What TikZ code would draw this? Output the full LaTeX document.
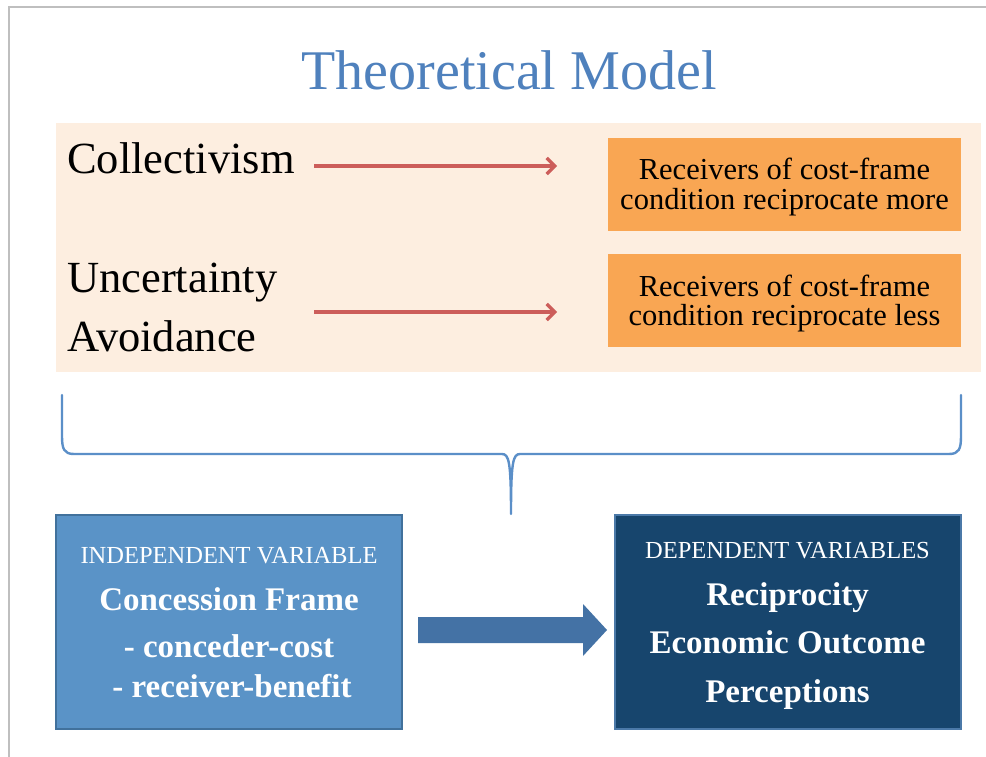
\documentclass[tikz,border=0pt]{standalone}
\usepackage{fontspec}
\setmainfont{Liberation Serif}
\usetikzlibrary{arrows.meta}
\definecolor{peach}{HTML}{FDEEE0}
\definecolor{orangebox}{HTML}{F9A653}
\definecolor{titleblue}{HTML}{4F81BD}
\definecolor{bracecol}{HTML}{5B8FC8}
\definecolor{redarr}{HTML}{CC5D5A}
\definecolor{lightblue}{HTML}{5A93C7}
\definecolor{lightblueedge}{HTML}{41719C}
\definecolor{darkblue}{HTML}{17456D}
\definecolor{darkblueedge}{HTML}{4B79A8}
\definecolor{arrowblue}{HTML}{4472A5}
\definecolor{framegray}{HTML}{BFBFBF}
\begin{document}
\begin{tikzpicture}[x=1pt,y=-1pt,
  txt/.style={inner sep=0pt, anchor=base},
  big/.style={txt, font=\fontsize{44.5}{48}\selectfont},
  small/.style={txt, font=\fontsize{30.5}{32}\selectfont},
  captxt/.style={txt, text=white, font=\fontsize{24.5}{26}\selectfont},
  boldw/.style={txt, text=white, font=\bfseries\fontsize{33}{36}\selectfont},
  obox/.style={rectangle, fill=orangebox, draw=none, minimum width=353pt, minimum height=93pt, inner sep=0pt},
  vbox/.style={rectangle, line width=2pt, minimum width=346pt, minimum height=214pt, inner sep=0pt},
  redarrow/.style={draw=redarr, line width=3.2pt, -{Straight Barb[length=8pt,width=16pt,line width=3.2pt]}},
  bracestyle/.style={draw=bracecol, line width=2.4pt, line cap=round, line join=round}
]
\useasboundingbox (0,0) rectangle (986,757);
\fill[white] (0,0) rectangle (986,757);
\draw[framegray, line width=2pt] (9,757) -- (9,7) -- (986,7);

\node[txt, text=titleblue, font=\fontsize{56}{60}\selectfont] (title) at (509,90) {Theoretical Model};

\node[rectangle, fill=peach, inner sep=0pt, minimum width=925pt, minimum height=249pt] (bg) at (518.5,247.5) {};

\node[big] (coll) at (67,174) [anchor=base west] {Collectivism};
\node[big] (unc1) at (67,292) [anchor=base west] {Uncertainty};
\node[big] (unc2) at (67,351) [anchor=base west] {Avoidance};

\node[obox] (o1) at (784.5,184.5) {};
\node[small] (o1a) at (784.5,180) {Receivers of cost-frame};
\node[small] (o1b) at (784.5,209) {condition reciprocate more};
\node[obox] (o2) at (784.5,300.5) {};
\node[small] (o2a) at (784.5,296) {Receivers of cost-frame};
\node[small] (o2b) at (784.5,325) {condition reciprocate less};

\coordinate (r1s) at (314,166);
\coordinate (r1e) at (557,166);
\coordinate (r2s) at (314,312);
\coordinate (r2e) at (557,312);
\draw[redarrow] (r1s) -- (r1e);
\draw[redarrow] (r2s) -- (r2e);

\draw[bracestyle] (62,395) -- (62,436) .. controls (62,449) and (64,454) .. (74,454)
  -- (502,454) .. controls (509,454) and (511,462) .. (511,514)
  .. controls (511,462) and (513,454) .. (520,454)
  -- (949,454) .. controls (959,454) and (961,449) .. (961,436) -- (961,395);

\node[vbox, fill=lightblue, draw=lightblueedge] (ind) at (229,622) {};
\node[captxt] (ind1) at (229,563) {INDEPENDENT VARIABLE};
\node[boldw] (ind2) at (229,610) {Concession Frame};
\node[boldw] (ind3) at (229,657) {- conceder-cost};
\node[boldw] (ind4) at (232,697) {- receiver-benefit};

\node[vbox, fill=darkblue, draw=darkblueedge] (dep) at (787.5,622) {};
\node[captxt] (dep1) at (787.5,558) {DEPENDENT VARIABLES};
\node[boldw] (dep2) at (787.5,605) {Reciprocity};
\node[boldw] (dep3) at (787.5,653) {Economic Outcome};
\node[boldw] (dep4) at (787.5,702) {Perceptions};

\coordinate (as) at (418,630);
\coordinate (ae) at (607,630);
\fill[arrowblue] (as) ++(0,-13) -- (583,617) -- (583,604) -- (ae) -- (583,656) -- (583,643) -- (418,643) -- cycle;
\end{tikzpicture}
\end{document}
